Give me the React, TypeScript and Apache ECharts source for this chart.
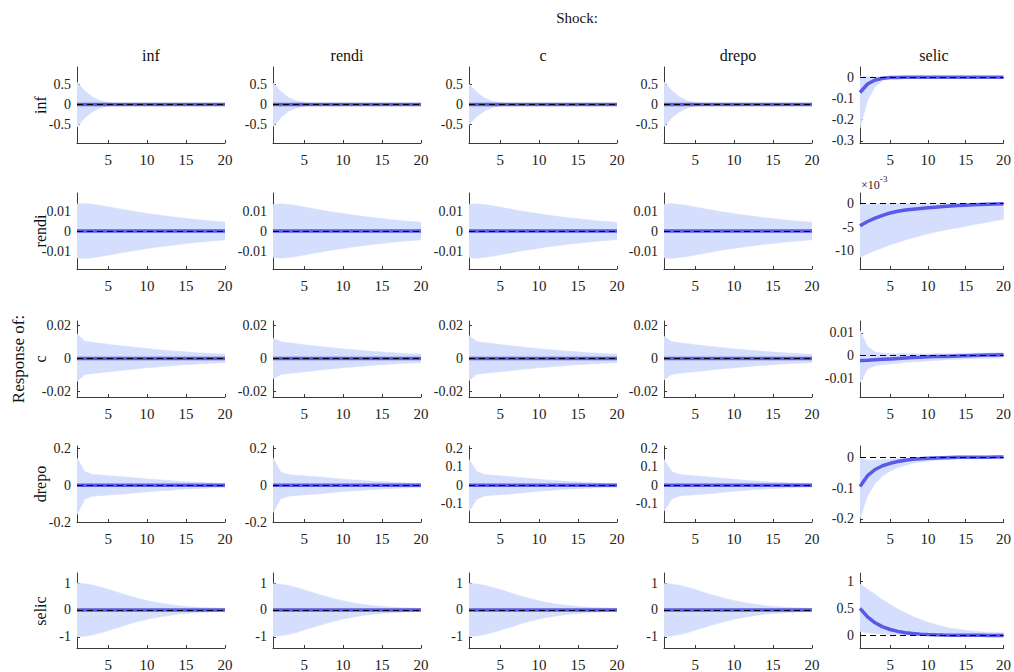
import { useEffect, useRef } from "react";
import * as echarts from "echarts";

// Horizon (periods after the shock)
const steps = [1, 2, 3, 4, 5, 6, 7, 8, 9, 10, 11, 12, 13, 14, 15, 16, 17, 18, 19, 20];
const shockNames = ["inf", "rendi", "c", "drepo", "selic"];
const responseNames = ["inf", "rendi", "c", "drepo", "selic"];
const xTicks = [5, 10, 15, 20];

// Median response for shocks with no measurable effect
const flat = [0, 0, 0, 0, 0, 0, 0, 0, 0, 0, 0, 0, 0, 0, 0, 0, 0, 0, 0, 0];

// ---- Response of inf ----
const infInfHi = [0.55, 0.33, 0.18, 0.09, 0.045, 0.022, 0.011, 0.006, 0.003, 0.002, 0.001, 0.001, 0, 0, 0, 0, 0, 0, 0, 0];
const infInfLo = [-0.56, -0.33, -0.18, -0.09, -0.045, -0.022, -0.011, -0.006, -0.003, -0.002, -0.001, -0.001, 0, 0, 0, 0, 0, 0, 0, 0];
const infRendiHi = [0.53, 0.32, 0.17, 0.09, 0.045, 0.022, 0.011, 0.006, 0.003, 0.002, 0.001, 0.001, 0, 0, 0, 0, 0, 0, 0, 0];
const infRendiLo = [-0.55, -0.33, -0.17, -0.09, -0.045, -0.022, -0.011, -0.006, -0.003, -0.002, -0.001, -0.001, 0, 0, 0, 0, 0, 0, 0, 0];
const infCHi = [0.5, 0.3, 0.16, 0.08, 0.04, 0.02, 0.01, 0.005, 0.003, 0.002, 0.001, 0.001, 0, 0, 0, 0, 0, 0, 0, 0];
const infCLo = [-0.5, -0.3, -0.16, -0.08, -0.04, -0.02, -0.01, -0.005, -0.003, -0.002, -0.001, -0.001, 0, 0, 0, 0, 0, 0, 0, 0];
const infDrepoHi = [0.55, 0.34, 0.18, 0.09, 0.045, 0.022, 0.011, 0.006, 0.003, 0.002, 0.001, 0.001, 0, 0, 0, 0, 0, 0, 0, 0];
const infDrepoLo = [-0.55, -0.33, -0.18, -0.09, -0.045, -0.022, -0.011, -0.006, -0.003, -0.002, -0.001, -0.001, 0, 0, 0, 0, 0, 0, 0, 0];
const infSelicMid = [-0.072, -0.032, -0.013, -0.005, -0.002, -0.001, 0, 0, 0, 0, 0, 0, 0, 0, 0, 0, 0, 0, 0, 0];
const infSelicHi = [0.004, 0.003, 0.001, 0.001, 0, 0, 0, 0, 0, 0, 0, 0, 0, 0, 0, 0, 0, 0, 0, 0];
const infSelicLo = [-0.24, -0.11, -0.045, -0.016, -0.006, -0.002, -0.001, 0, 0, 0, 0, 0, 0, 0, 0, 0, 0, 0, 0, 0];

// ---- Response of rendi ----
const rendiInfHi = [0.0135, 0.0138, 0.0134, 0.0128, 0.0121, 0.0114, 0.0107, 0.01, 0.0094, 0.0088, 0.0082, 0.0077, 0.0072, 0.0067, 0.0063, 0.0059, 0.0055, 0.0051, 0.0048, 0.0045];
const rendiInfLo = [-0.0135, -0.0138, -0.0134, -0.0128, -0.0121, -0.0114, -0.0107, -0.01, -0.0094, -0.0088, -0.0082, -0.0077, -0.0072, -0.0067, -0.0063, -0.0059, -0.0055, -0.0051, -0.0048, -0.0045];
const rendiRendiHi = [0.0132, 0.0136, 0.0133, 0.0127, 0.012, 0.0113, 0.0106, 0.0099, 0.0093, 0.0087, 0.0081, 0.0076, 0.0071, 0.0066, 0.0062, 0.0058, 0.0054, 0.005, 0.0047, 0.0044];
const rendiRendiLo = [-0.0132, -0.0136, -0.0133, -0.0127, -0.012, -0.0113, -0.0106, -0.0099, -0.0093, -0.0087, -0.0081, -0.0076, -0.0071, -0.0066, -0.0062, -0.0058, -0.0054, -0.005, -0.0047, -0.0044];
const rendiCHi = [0.0133, 0.0136, 0.0132, 0.0126, 0.0119, 0.0112, 0.0105, 0.0098, 0.0092, 0.0086, 0.008, 0.0075, 0.007, 0.0065, 0.0061, 0.0057, 0.0053, 0.0049, 0.0046, 0.0043];
const rendiCLo = [-0.0133, -0.0136, -0.0132, -0.0126, -0.0119, -0.0112, -0.0105, -0.0098, -0.0092, -0.0086, -0.008, -0.0075, -0.007, -0.0065, -0.0061, -0.0057, -0.0053, -0.0049, -0.0046, -0.0043];
const rendiDrepoHi = [0.0134, 0.0137, 0.0133, 0.0127, 0.012, 0.0113, 0.0106, 0.0099, 0.0093, 0.0087, 0.0081, 0.0076, 0.0071, 0.0066, 0.0062, 0.0058, 0.0054, 0.005, 0.0047, 0.0044];
const rendiDrepoLo = [-0.0134, -0.0137, -0.0133, -0.0127, -0.012, -0.0113, -0.0106, -0.0099, -0.0093, -0.0087, -0.0081, -0.0076, -0.0071, -0.0066, -0.0062, -0.0058, -0.0054, -0.005, -0.0047, -0.0044];
// rendi to selic, in units of 1e-3
const rendiSelicMid = [-4.7, -3.8, -3.1, -2.5, -2.0, -1.65, -1.4, -1.2, -1.05, -0.9, -0.78, -0.66, -0.55, -0.45, -0.36, -0.28, -0.22, -0.17, -0.12, -0.08];
const rendiSelicHi = [-0.2, -0.15, -0.1, -0.05, 0, 0, 0, 0, 0, 0, 0, 0, 0, 0, 0, 0, 0, 0, 0, 0];
const rendiSelicLo = [-11.3, -10.6, -9.9, -9.3, -8.7, -8.2, -7.7, -7.2, -6.8, -6.4, -6.0, -5.7, -5.4, -5.1, -4.8, -4.5, -4.2, -3.9, -3.6, -3.4];

// ---- Response of c ----
const cInfHi = [0.015, 0.0105, 0.0098, 0.0092, 0.0086, 0.008, 0.0075, 0.007, 0.0065, 0.006, 0.0055, 0.0051, 0.0047, 0.0043, 0.004, 0.0036, 0.0033, 0.003, 0.0028, 0.0026];
const cInfLo = [-0.014, -0.0098, -0.0092, -0.0087, -0.0082, -0.0077, -0.0072, -0.0067, -0.0062, -0.0057, -0.0053, -0.0049, -0.0045, -0.0041, -0.0038, -0.0035, -0.0032, -0.003, -0.0028, -0.0026];
const cRendiHi = [0.0125, 0.0102, 0.0096, 0.009, 0.0084, 0.0078, 0.0073, 0.0068, 0.0063, 0.0058, 0.0054, 0.005, 0.0046, 0.0042, 0.0039, 0.0036, 0.0033, 0.003, 0.0028, 0.0026];
const cRendiLo = [-0.0125, -0.0098, -0.0092, -0.0087, -0.0081, -0.0076, -0.0071, -0.0066, -0.0061, -0.0057, -0.0053, -0.0049, -0.0045, -0.0041, -0.0038, -0.0035, -0.0032, -0.003, -0.0028, -0.0026];
const cCHi = [0.014, 0.0103, 0.0097, 0.0091, 0.0085, 0.0079, 0.0074, 0.0069, 0.0064, 0.0059, 0.0055, 0.0051, 0.0047, 0.0043, 0.004, 0.0036, 0.0033, 0.003, 0.0028, 0.0026];
const cCLo = [-0.0135, -0.0097, -0.0091, -0.0086, -0.0081, -0.0076, -0.0071, -0.0066, -0.0061, -0.0057, -0.0053, -0.0049, -0.0045, -0.0041, -0.0038, -0.0035, -0.0032, -0.003, -0.0028, -0.0026];
const cDrepoHi = [0.0135, 0.0102, 0.0096, 0.009, 0.0084, 0.0078, 0.0073, 0.0068, 0.0063, 0.0058, 0.0054, 0.005, 0.0046, 0.0042, 0.0039, 0.0036, 0.0033, 0.003, 0.0028, 0.0026];
const cDrepoLo = [-0.0132, -0.0097, -0.0091, -0.0086, -0.0081, -0.0076, -0.0071, -0.0066, -0.0061, -0.0057, -0.0053, -0.0049, -0.0045, -0.0041, -0.0038, -0.0035, -0.0032, -0.003, -0.0028, -0.0026];
const cSelicMid = [-0.0022, -0.0021, -0.0019, -0.0017, -0.0015, -0.0013, -0.0011, -0.0009, -0.0008, -0.0006, -0.0005, -0.0004, -0.0003, -0.0002, -0.0001, 0, 0.0001, 0.0002, 0.0002, 0.0003];
const cSelicHi = [0.011, 0.004, 0.0015, 0.001, 0.0008, 0.0008, 0.0008, 0.0008, 0.0008, 0.0008, 0.0009, 0.0009, 0.0009, 0.001, 0.001, 0.001, 0.0011, 0.0011, 0.0012, 0.0012];
const cSelicLo = [-0.012, -0.006, -0.0045, -0.004, -0.0037, -0.0034, -0.003, -0.0028, -0.0026, -0.0024, -0.0022, -0.002, -0.0018, -0.0017, -0.0015, -0.0014, -0.0013, -0.0012, -0.0011, -0.001];

// ---- Response of drepo ----
const drepoInfHi = [0.15, 0.075, 0.06, 0.056, 0.053, 0.05, 0.047, 0.043, 0.039, 0.035, 0.032, 0.029, 0.026, 0.023, 0.02, 0.018, 0.016, 0.014, 0.012, 0.011];
const drepoInfLo = [-0.16, -0.075, -0.06, -0.056, -0.053, -0.05, -0.047, -0.043, -0.039, -0.035, -0.032, -0.029, -0.026, -0.023, -0.02, -0.018, -0.016, -0.014, -0.012, -0.011];
const drepoRendiHi = [0.15, 0.073, 0.059, 0.055, 0.052, 0.049, 0.046, 0.042, 0.038, 0.034, 0.031, 0.028, 0.025, 0.022, 0.02, 0.018, 0.016, 0.014, 0.012, 0.011];
const drepoRendiLo = [-0.15, -0.073, -0.059, -0.055, -0.052, -0.049, -0.046, -0.042, -0.038, -0.034, -0.031, -0.028, -0.025, -0.022, -0.02, -0.018, -0.016, -0.014, -0.012, -0.011];
const drepoCHi = [0.14, 0.075, 0.058, 0.054, 0.051, 0.048, 0.044, 0.04, 0.036, 0.032, 0.029, 0.026, 0.023, 0.02, 0.018, 0.016, 0.014, 0.012, 0.011, 0.01];
const drepoCLo = [-0.14, -0.075, -0.058, -0.054, -0.051, -0.048, -0.044, -0.04, -0.036, -0.032, -0.029, -0.026, -0.023, -0.02, -0.018, -0.016, -0.014, -0.012, -0.011, -0.01];
const drepoDrepoHi = [0.14, 0.074, 0.058, 0.054, 0.051, 0.048, 0.044, 0.04, 0.036, 0.032, 0.029, 0.026, 0.023, 0.02, 0.018, 0.016, 0.014, 0.012, 0.011, 0.01];
const drepoDrepoLo = [-0.14, -0.074, -0.058, -0.054, -0.051, -0.048, -0.044, -0.04, -0.036, -0.032, -0.029, -0.026, -0.023, -0.02, -0.018, -0.016, -0.014, -0.012, -0.011, -0.01];
const drepoSelicMid = [-0.095, -0.06, -0.04, -0.028, -0.02, -0.014, -0.01, -0.007, -0.005, -0.0035, -0.0025, -0.0018, -0.0012, -0.0008, -0.0005, -0.0003, -0.0002, -0.0001, 0, 0];
const drepoSelicHi = [-0.002, -0.01, -0.01, -0.008, -0.006, -0.004, -0.003, -0.002, -0.001, 0, 0, 0, 0, 0, 0, 0, 0, 0, 0, 0];
const drepoSelicLo = [-0.2, -0.125, -0.085, -0.06, -0.045, -0.034, -0.026, -0.02, -0.016, -0.013, -0.01, -0.008, -0.007, -0.006, -0.005, -0.004, -0.0035, -0.003, -0.0025, -0.002];

// ---- Response of selic ----
const selicInfHi = [1.0, 0.98, 0.93, 0.86, 0.77, 0.68, 0.59, 0.5, 0.42, 0.35, 0.29, 0.24, 0.2, 0.16, 0.13, 0.11, 0.09, 0.08, 0.07, 0.06];
const selicInfLo = [-1.0, -0.98, -0.93, -0.86, -0.77, -0.68, -0.59, -0.5, -0.42, -0.35, -0.29, -0.24, -0.2, -0.16, -0.13, -0.11, -0.09, -0.08, -0.07, -0.06];
const selicRendiHi = [0.98, 0.96, 0.91, 0.84, 0.75, 0.66, 0.57, 0.49, 0.41, 0.34, 0.28, 0.23, 0.19, 0.16, 0.13, 0.11, 0.09, 0.08, 0.07, 0.06];
const selicRendiLo = [-0.98, -0.96, -0.91, -0.84, -0.75, -0.66, -0.57, -0.49, -0.41, -0.34, -0.28, -0.23, -0.19, -0.16, -0.13, -0.11, -0.09, -0.08, -0.07, -0.06];
const selicCHi = [0.99, 0.97, 0.92, 0.85, 0.76, 0.67, 0.58, 0.49, 0.41, 0.34, 0.28, 0.23, 0.19, 0.16, 0.13, 0.11, 0.09, 0.08, 0.07, 0.06];
const selicCLo = [-0.99, -0.97, -0.92, -0.85, -0.76, -0.67, -0.58, -0.49, -0.41, -0.34, -0.28, -0.23, -0.19, -0.16, -0.13, -0.11, -0.09, -0.08, -0.07, -0.06];
const selicDrepoHi = [0.99, 0.97, 0.92, 0.85, 0.76, 0.67, 0.58, 0.5, 0.42, 0.35, 0.29, 0.24, 0.2, 0.16, 0.13, 0.11, 0.09, 0.08, 0.07, 0.06];
const selicDrepoLo = [-0.99, -0.97, -0.92, -0.85, -0.76, -0.67, -0.58, -0.5, -0.42, -0.35, -0.29, -0.24, -0.2, -0.16, -0.13, -0.11, -0.09, -0.08, -0.07, -0.06];
const selicSelicMid = [0.5, 0.34, 0.23, 0.155, 0.105, 0.07, 0.046, 0.03, 0.019, 0.011, 0.006, 0.002, 0, -0.002, -0.003, -0.004, -0.004, -0.005, -0.005, -0.005];
const selicSelicHi = [0.95, 0.86, 0.76, 0.66, 0.57, 0.49, 0.42, 0.35, 0.29, 0.24, 0.2, 0.16, 0.13, 0.11, 0.09, 0.075, 0.065, 0.055, 0.05, 0.045];
const selicSelicLo = [0.07, 0.045, 0.03, 0.02, 0.01, 0.005, 0, -0.005, -0.01, -0.012, -0.014, -0.015, -0.016, -0.017, -0.018, -0.018, -0.018, -0.018, -0.018, -0.018];

// Axis ranges and tick values, [min, max, ticks]
const rangeInf: [number, number, number[]] = [-0.95, 0.92, [-0.5, 0, 0.5]];
const rangeInfSelic: [number, number, number[]] = [-0.31, 0.048, [-0.3, -0.2, -0.1, 0]];
const rangeRendi: [number, number, number[]] = [-0.019, 0.019, [-0.01, 0, 0.01]];
const rangeRendiSelic: [number, number, number[]] = [-13.8, 2.2, [-10, -5, 0]];
const rangeC: [number, number, number[]] = [-0.0235, 0.0228, [-0.02, 0, 0.02]];
const rangeCSelic: [number, number, number[]] = [-0.0183, 0.0152, [-0.01, 0, 0.01]];
const rangeDrepoA: [number, number, number[]] = [-0.2, 0.215, [-0.2, 0, 0.2]];
const rangeDrepoB: [number, number, number[]] = [-0.198, 0.212, [-0.1, 0, 0.1, 0.2]];
const rangeDrepoSelic: [number, number, number[]] = [-0.21, 0.036, [-0.2, -0.1, 0]];
const rangeSelic: [number, number, number[]] = [-1.42, 1.38, [-1, 0, 1]];
const rangeSelicSelic: [number, number, number[]] = [-0.24, 1.16, [0, 0.5, 1]];

// Rows: response variable; columns: shock
const panels = [
  [
    { mid: flat, hi: infInfHi, lo: infInfLo, range: rangeInf },
    { mid: flat, hi: infRendiHi, lo: infRendiLo, range: rangeInf },
    { mid: flat, hi: infCHi, lo: infCLo, range: rangeInf },
    { mid: flat, hi: infDrepoHi, lo: infDrepoLo, range: rangeInf },
    { mid: infSelicMid, hi: infSelicHi, lo: infSelicLo, range: rangeInfSelic },
  ],
  [
    { mid: flat, hi: rendiInfHi, lo: rendiInfLo, range: rangeRendi },
    { mid: flat, hi: rendiRendiHi, lo: rendiRendiLo, range: rangeRendi },
    { mid: flat, hi: rendiCHi, lo: rendiCLo, range: rangeRendi },
    { mid: flat, hi: rendiDrepoHi, lo: rendiDrepoLo, range: rangeRendi },
    { mid: rendiSelicMid, hi: rendiSelicHi, lo: rendiSelicLo, range: rangeRendiSelic },
  ],
  [
    { mid: flat, hi: cInfHi, lo: cInfLo, range: rangeC },
    { mid: flat, hi: cRendiHi, lo: cRendiLo, range: rangeC },
    { mid: flat, hi: cCHi, lo: cCLo, range: rangeC },
    { mid: flat, hi: cDrepoHi, lo: cDrepoLo, range: rangeC },
    { mid: cSelicMid, hi: cSelicHi, lo: cSelicLo, range: rangeCSelic },
  ],
  [
    { mid: flat, hi: drepoInfHi, lo: drepoInfLo, range: rangeDrepoA },
    { mid: flat, hi: drepoRendiHi, lo: drepoRendiLo, range: rangeDrepoA },
    { mid: flat, hi: drepoCHi, lo: drepoCLo, range: rangeDrepoB },
    { mid: flat, hi: drepoDrepoHi, lo: drepoDrepoLo, range: rangeDrepoB },
    { mid: drepoSelicMid, hi: drepoSelicHi, lo: drepoSelicLo, range: rangeDrepoSelic },
  ],
  [
    { mid: flat, hi: selicInfHi, lo: selicInfLo, range: rangeSelic },
    { mid: flat, hi: selicRendiHi, lo: selicRendiLo, range: rangeSelic },
    { mid: flat, hi: selicCHi, lo: selicCLo, range: rangeSelic },
    { mid: flat, hi: selicDrepoHi, lo: selicDrepoLo, range: rangeSelic },
    { mid: selicSelicMid, hi: selicSelicHi, lo: selicSelicLo, range: rangeSelicSelic },
  ],
];

const FAMILY = "Liberation Serif";
const colLeft = [77, 273, 469, 664, 860];
const rowTop = [67, 193, 321, 446, 573];
const PW = 148;
const PH = 76;
const BAND = "#d5defc";
const LINE = "#5a5ae6";
const AXIS = "#3a3a3a";

function centeredText(text: string, x: number, y: number, size: number, rotation = 0) {
  return {
    type: "text",
    x,
    y,
    rotation,
    style: {
      text,
      fontFamily: FAMILY,
      fontSize: size,
      fill: "#111",
      align: "center",
      verticalAlign: "middle",
      textAlign: "center",
      textVerticalAlign: "middle",
    },
  };
}

function buildOption() {
  const grid: any[] = [];
  const xAxis: any[] = [];
  const yAxis: any[] = [];
  const series: any[] = [];
  const graphic: any[] = [];

  panels.forEach((row, r) => {
    row.forEach((p, c) => {
      const i = r * 5 + c;
      grid.push({ left: colLeft[c], top: rowTop[r], width: c === 4 ? 147 : PW, height: PH });
      xAxis.push({
        type: "value",
        gridIndex: i,
        min: 1,
        max: 20,
        axisLine: { show: true, onZero: false, lineStyle: { color: AXIS, width: 1 } },
        axisTick: { show: true, inside: true, length: 3, customValues: xTicks, lineStyle: { color: AXIS } },
        axisLabel: {
          show: true,
          customValues: xTicks,
          margin: 9,
          fontFamily: FAMILY,
          fontSize: 15,
          color: "#222",
        },
        splitLine: { show: false },
      });
      const [min, max, ticks] = p.range;
      yAxis.push({
        type: "value",
        gridIndex: i,
        min,
        max,
        axisLine: { show: true, onZero: false, lineStyle: { color: AXIS, width: 1 } },
        axisTick: { show: true, inside: true, length: 3, customValues: ticks, lineStyle: { color: AXIS } },
        axisLabel: {
          show: true,
          customValues: ticks,
          margin: 6,
          fontFamily: FAMILY,
          fontSize: 14,
          color: "#222",
          formatter: (v: number) => String(v),
        },
        splitLine: { show: false },
      });

      // Credible band, drawn as one polygon through the axis scales
      const bandData = steps.map((s, k) => [s, p.lo[k], p.hi[k]]);
      series.push({
        type: "custom",
        xAxisIndex: i,
        yAxisIndex: i,
        silent: true,
        clip: true,
        z: 1,
        encode: { x: 0, y: [1, 2] },
        data: bandData,
        renderItem: (params: any, api: any) => {
          if (params.dataIndex !== 0) return null;
          const upper = bandData.map((d) => api.coord([d[0], d[2]]));
          const lower = bandData.map((d) => api.coord([d[0], d[1]])).reverse();
          return {
            type: "polygon",
            shape: { points: upper.concat(lower) },
            style: { fill: BAND, stroke: BAND, lineWidth: 0.5 },
          };
        },
      });

      series.push({
        type: "line",
        xAxisIndex: i,
        yAxisIndex: i,
        symbol: "none",
        silent: true,
        lineStyle: { color: LINE, width: 3.5 },
        data: steps.map((s, k) => [s, p.mid[k]]),
        z: 3,
        markLine: {
          silent: true,
          symbol: "none",
          z: 5,
          label: { show: false },
          lineStyle: { color: "#000", width: 1, type: [6, 4] },
          data: [{ yAxis: 0 }],
        },
      });
    });
  });

  shockNames.forEach((name, c) => {
    graphic.push(centeredText(name, colLeft[c] + PW / 2, 55, 16));
  });
  responseNames.forEach((name, r) => {
    graphic.push(centeredText(name, 40, rowTop[r] + PH / 2, 16, Math.PI / 2));
  });
  graphic.push(centeredText("Shock:", 577, 18, 15));
  graphic.push(centeredText("Response of:", 18, rowTop[2] + PH / 2, 17, Math.PI / 2));

  // Exponent for the rendi/selic panel
  graphic.push({
    type: "text",
    x: 861,
    y: 185,
    style: {
      text: "×10",
      fontFamily: FAMILY,
      fontSize: 12,
      fill: "#222",
      align: "left",
      verticalAlign: "middle",
      textAlign: "left",
      textVerticalAlign: "middle",
    },
  });
  graphic.push({
    type: "text",
    x: 880,
    y: 179,
    style: {
      text: "-3",
      fontFamily: FAMILY,
      fontSize: 9,
      fill: "#222",
      align: "left",
      verticalAlign: "middle",
      textAlign: "left",
      textVerticalAlign: "middle",
    },
  });

  return {
    animation: false,
    backgroundColor: "#ffffff",
    textStyle: { fontFamily: FAMILY },
    grid,
    xAxis,
    yAxis,
    series,
    graphic,
  };
}

export default function App() {
  const ref = useRef<HTMLDivElement>(null);
  useEffect(() => {
    if (!ref.current) return;
    const chart = echarts.init(ref.current, undefined, { renderer: "svg" });
    chart.setOption(buildOption() as any);
    return () => chart.dispose();
  }, []);
  return (
    <div
      ref={ref}
      style={{ position: "fixed", left: 0, top: 0, width: 1014, height: 672, background: "#fff" }}
    />
  );
}
